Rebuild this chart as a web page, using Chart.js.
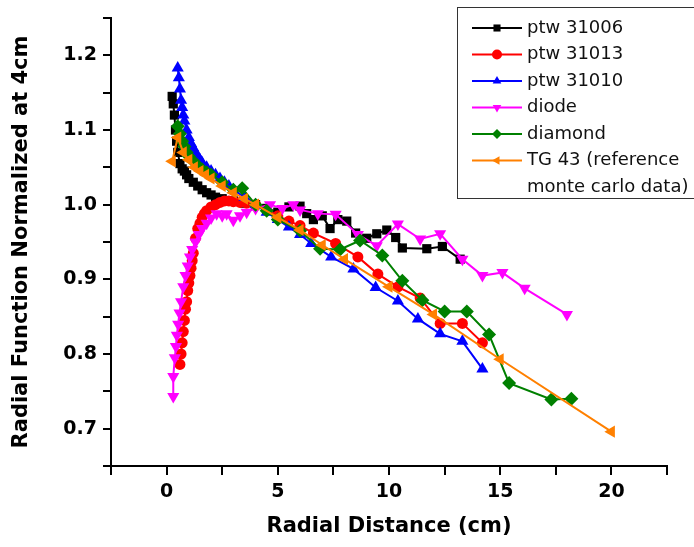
<!DOCTYPE html>
<html>
<head>
<meta charset="utf-8">
<script src="https://cdn.jsdelivr.net/npm/chart.js@4.4.1/dist/chart.umd.min.js"></script>
<style>
  html, body { margin: 0; padding: 0; background: #fff; }
  #wrap { width: 694px; height: 547px; }
</style>
</head>
<body>
<div id="wrap"><canvas id="radialChart" width="694" height="547"></canvas></div>
<script>
// values
const seriesNames = ['ptw 31006', 'ptw 31013', 'ptw 31010', 'diode', 'diamond', 'TG 43 (reference monte carlo data)'];

const ptw31006X = [0.25, 0.3, 0.35, 0.4, 0.45, 0.5, 0.6, 0.7, 0.8, 0.9, 1.0, 1.2, 1.4, 1.6, 1.8, 2.0, 2.2, 2.5, 3.0, 3.5, 4.0, 4.5, 5.0, 5.5, 6.0, 6.3, 6.6, 7.0, 7.35, 7.7, 8.1, 8.5, 9.0, 9.45, 9.9, 10.3, 10.6, 11.7, 12.4, 13.2];
const ptw31006Y = [1.145, 1.135, 1.12, 1.10, 1.085, 1.07, 1.055, 1.048, 1.045, 1.04, 1.035, 1.03, 1.025, 1.02, 1.016, 1.013, 1.01, 1.008, 1.005, 1.002, 1.0, 0.995, 0.99, 0.997, 0.998, 0.988, 0.98, 0.985, 0.968, 0.98, 0.978, 0.962, 0.955, 0.961, 0.966, 0.956, 0.942, 0.941, 0.944, 0.927];

const ptw31013X = [0.6, 0.65, 0.7, 0.75, 0.8, 0.85, 0.9, 0.95, 1.0, 1.05, 1.1, 1.15, 1.2, 1.3, 1.4, 1.5, 1.6, 1.7, 1.8, 2.0, 2.2, 2.4, 2.6, 2.8, 3.0, 3.3, 3.6, 4.0, 4.5, 5.0, 5.5, 6.0, 6.6, 7.6, 8.6, 9.5, 10.4, 11.4, 12.3, 13.3, 14.2];
const ptw31013Y = [0.786, 0.80, 0.815, 0.83, 0.845, 0.86, 0.87, 0.885, 0.895, 0.905, 0.915, 0.925, 0.935, 0.955, 0.968, 0.975, 0.983, 0.988, 0.992, 0.997, 1.0, 1.003, 1.005, 1.005, 1.004, 1.003, 1.002, 1.0, 0.993, 0.985, 0.978, 0.972, 0.962, 0.948, 0.93, 0.907, 0.89, 0.875, 0.841, 0.841, 0.815];

const ptw31010X = [0.5, 0.55, 0.6, 0.65, 0.7, 0.75, 0.8, 0.9, 1.0, 1.1, 1.2, 1.3, 1.4, 1.5, 1.6, 1.8, 2.0, 2.2, 2.4, 2.6, 2.8, 3.0, 3.5, 4.0, 4.5, 5.0, 5.5, 6.0, 6.5, 7.4, 8.4, 9.4, 10.4, 11.3, 12.3, 13.3, 14.2];
const ptw31010Y = [1.183, 1.17, 1.155, 1.14, 1.13, 1.12, 1.112, 1.10, 1.09, 1.082, 1.076, 1.07, 1.065, 1.06, 1.056, 1.05, 1.045, 1.04, 1.035, 1.03, 1.025, 1.02, 1.01, 1.0, 0.99, 0.98, 0.97, 0.96, 0.948, 0.93, 0.914, 0.889, 0.871, 0.847, 0.827, 0.817, 0.78];

const diodeX = [0.3, 0.3, 0.37, 0.42, 0.46, 0.52, 0.58, 0.65, 0.75, 0.85, 0.95, 1.05, 1.15, 1.3, 1.45, 1.6, 1.8, 2.0, 2.25, 2.5, 2.7, 3.0, 3.3, 3.6, 4.0, 4.65, 5.2, 5.7, 6.0, 6.8, 7.6, 8.6, 9.45, 10.4, 11.4, 12.3, 13.3, 14.2, 15.1, 16.1, 18.0];
const diodeY = [0.743, 0.77, 0.795, 0.81, 0.825, 0.84, 0.855, 0.87, 0.89, 0.905, 0.918, 0.93, 0.94, 0.95, 0.96, 0.968, 0.975, 0.982, 0.988, 0.985, 0.988, 0.979, 0.985, 0.99, 0.995, 1.0, 0.995, 1.0, 0.993, 0.988, 0.987, 0.96, 0.945, 0.974, 0.954, 0.961, 0.927, 0.905, 0.909, 0.888, 0.853];

const diamondX = [0.5, 0.6, 0.7, 0.8, 0.9, 1.0, 1.2, 1.4, 1.6, 1.8, 2.0, 2.5, 3.0, 3.4, 4.0, 4.5, 5.0, 6.0, 6.9, 7.8, 8.7, 9.7, 10.6, 11.5, 12.5, 13.5, 14.5, 15.4, 17.3, 18.2];
const diamondY = [1.105, 1.095, 1.085, 1.078, 1.07, 1.065, 1.058, 1.052, 1.047, 1.043, 1.04, 1.03, 1.02, 1.022, 1.0, 0.992, 0.98, 0.965, 0.941, 0.94, 0.952, 0.932, 0.898, 0.872, 0.857, 0.857, 0.826, 0.761, 0.739, 0.74];

const tg43X = [0.25, 0.5, 0.75, 1.0, 1.25, 1.5, 1.75, 2.0, 2.5, 3.0, 3.5, 4.0, 5.0, 6.0, 7.0, 8.0, 10.0, 12.0, 15.0, 20.0];
const tg43Y = [1.058, 1.09, 1.07, 1.06, 1.05, 1.045, 1.04, 1.035, 1.025, 1.016, 1.008, 1.0, 0.983, 0.966, 0.946, 0.927, 0.89, 0.853, 0.793, 0.696];

const xTicks = [0, 5, 10, 15, 20];
const yTicks = [0.7, 0.8, 0.9, 1.0, 1.1, 1.2];

const colors = ['#000000', '#ff0000', '#0000ff', '#ff00ff', '#008000', '#ff8000'];
const markers = [
  { pointStyle: 'rect', rotation: 0, radius: 6.5 },
  { pointStyle: 'circle', rotation: 0, radius: 5.5 },
  { pointStyle: 'triangle', rotation: 0, radius: 7 },
  { pointStyle: 'triangle', rotation: 180, radius: 7 },
  { pointStyle: 'rectRot', rotation: 0, radius: 7 },
  { pointStyle: 'triangle', rotation: -90, radius: 7 }
];

function toPoints(xs, ys) {
  return xs.map((x, i) => ({ x: x, y: ys[i] }));
}

const allSeries = [
  toPoints(ptw31006X, ptw31006Y),
  toPoints(ptw31013X, ptw31013Y),
  toPoints(ptw31010X, ptw31010Y),
  toPoints(diodeX, diodeY),
  toPoints(diamondX, diamondY),
  toPoints(tg43X, tg43Y)
];

const datasets = allSeries.map((pts, i) => ({
  label: seriesNames[i],
  data: pts,
  showLine: true,
  borderColor: colors[i],
  backgroundColor: colors[i],
  borderWidth: 2,
  pointStyle: markers[i].pointStyle,
  rotation: markers[i].rotation,
  pointRadius: markers[i].radius,
  pointBorderWidth: 0,
  order: seriesNames.length - i
}));

const fontFam = '"DejaVu Sans", "Liberation Sans", Arial, sans-serif';

// boxed legend like the original, partly running off the right edge
const boxLegend = {
  id: 'boxLegend',
  afterDraw(chart) {
    const ctx = chart.ctx;
    ctx.save();
    ctx.fillStyle = '#fff';
    ctx.fillRect(457, 7, 260, 191);
    ctx.strokeStyle = '#333';
    ctx.lineWidth = 1;
    ctx.strokeRect(457.5, 7.5, 260, 191);

    ctx.font = '18px ' + fontFam;
    ctx.textBaseline = 'middle';
    ctx.textAlign = 'left';
    let y = 28;
    chart.data.datasets.forEach((ds, i) => {
      ctx.strokeStyle = colors[i];
      ctx.fillStyle = colors[i];
      ctx.lineWidth = 2;
      ctx.beginPath();
      ctx.moveTo(472, y);
      ctx.lineTo(522, y);
      ctx.stroke();
      Chart.helpers.drawPoint(ctx, {
        pointStyle: markers[i].pointStyle,
        rotation: markers[i].rotation,
        radius: 5,
        borderWidth: 0
      }, 497, y);
      ctx.fillStyle = '#111';
      if (i === seriesNames.length - 1) {
        ctx.fillText('TG 43 (reference', 527, y);
        ctx.fillText('monte carlo data)', 527, y + 27);
      } else {
        ctx.fillText(ds.label, 527, y);
      }
      y += 26.5;
    });
    ctx.restore();
  }
};

new Chart(document.getElementById('radialChart'), {
  type: 'scatter',
  data: { datasets: datasets },
  plugins: [boxLegend],
  options: {
    responsive: false,
    animation: false,
    layout: { padding: { top: 18, right: 27, left: 0, bottom: 0 } },
    plugins: {
      legend: { display: false },
      tooltip: { enabled: false }
    },
    scales: {
      x: {
        type: 'linear',
        min: -2.5,
        max: 22.5,
        afterFit: (s) => { s.height = 81; },
        border: { color: '#000', width: 2 },
        grid: { drawOnChartArea: false, color: '#000', lineWidth: 2, tickLength: 9 },
        ticks: {
          stepSize: 2.5,
          color: '#000',
          padding: 6,
          maxRotation: 0,
          font: { family: fontFam, size: 19, weight: 'bold' },
          callback: (v) => xTicks.includes(v) ? String(v) : ''
        },
        title: {
          display: true,
          text: 'Radial Distance (cm)',
          color: '#000',
          padding: { top: 6, bottom: 8 },
          font: { family: fontFam, size: 21, weight: 'bold' }
        }
      },
      y: {
        type: 'linear',
        min: 0.65,
        max: 1.25,
        afterFit: (s) => { s.width = 111; },
        border: { color: '#000', width: 2 },
        grid: { drawOnChartArea: false, color: '#000', lineWidth: 2, tickLength: 8 },
        ticks: {
          stepSize: 0.05,
          color: '#000',
          padding: 6,
          font: { family: fontFam, size: 19, weight: 'bold' },
          callback: (v) => {
            const hit = yTicks.find((t) => Math.abs(t - v) < 1e-6);
            return hit !== undefined ? hit.toFixed(1) : '';
          }
        },
        title: {
          display: true,
          text: 'Radial Function Normalized at 4cm',
          color: '#000',
          padding: { top: 9, bottom: 4 },
          font: { family: fontFam, size: 21, weight: 'bold' }
        }
      }
    }
  }
});
</script>
</body>
</html>
